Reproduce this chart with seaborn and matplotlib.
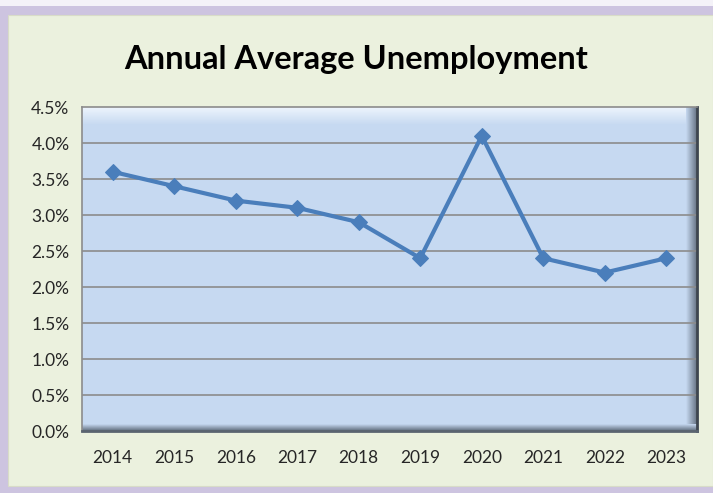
import numpy as np
import pandas as pd
import matplotlib
matplotlib.use("Agg")
import matplotlib.pyplot as plt
import seaborn as sns
from matplotlib.patches import Rectangle
from matplotlib.colors import LinearSegmentedColormap
from matplotlib.ticker import FixedLocator, FuncFormatter

# data
years = ["2014", "2015", "2016", "2017", "2018", "2019", "2020", "2021", "2022", "2023"]
rate = [3.6, 3.4, 3.2, 3.1, 2.9, 2.4, 4.1, 2.4, 2.2, 2.4]
y_ticks = [0.0, 0.5, 1.0, 1.5, 2.0, 2.5, 3.0, 3.5, 4.0, 4.5]

df = pd.DataFrame({"Year": years, "Rate": rate})
df["pos"] = np.arange(len(years))

sns.set_style("white")
plt.rcParams["font.family"] = ["Lato", "DejaVu Sans"]

fig = plt.figure(figsize=(7.13, 4.93), dpi=100)
fig.patch.set_facecolor("#f4f2f8")

# outer frame (lavender) and chart area (pale green)
fig.patches.append(Rectangle((0, 0), 1, 1 - 6 / 493, transform=fig.transFigure,
                             facecolor="#cdc4e0", edgecolor="none", zorder=-2))
fig.patches.append(Rectangle((8 / 713, 7 / 493), 1 - 8 / 713, 1 - 22 / 493,
                             transform=fig.transFigure, facecolor="#ebf1de",
                             edgecolor="#d8dcc8", linewidth=0.8, zorder=-1))

ax = fig.add_axes([82 / 713, 62 / 493, 615 / 713, 324 / 493])
ax.set_zorder(2)
ax.set_facecolor("#c6d9f1")

# soft bevel: highlight fading down from the top, shadow on right and bottom
grad = np.linspace(0, 1, 64)
top_cmap = LinearSegmentedColormap.from_list("top", ["#c6d9f1", "#eef5fd"])
ax.imshow(grad[:, None], cmap=top_cmap, extent=(0, 1, 0.945, 1), origin="lower",
          aspect="auto", transform=ax.transAxes, zorder=0.5)
side_cmap = LinearSegmentedColormap.from_list("side", ["#c6d9f1", "#5d6a7a"])
ax.imshow(grad[None, :], cmap=side_cmap, extent=(0.982, 1, 0, 1),
          aspect="auto", transform=ax.transAxes, zorder=0.5)
ax.imshow(grad[::-1, None], cmap=side_cmap, extent=(0, 1, 0, 0.02), origin="lower",
          aspect="auto", transform=ax.transAxes, zorder=0.5)

for yv in y_ticks[1:-1]:
    ax.axhline(yv, color="#8c8c8c", linewidth=1.2, zorder=1)

sns.lineplot(data=df, x="pos", y="Rate", ax=ax, color="#4a7ebb", linewidth=3,
             marker="D", markersize=8, markeredgecolor="#4a7ebb", zorder=3)

ax.set_xlim(-0.5, len(years) - 0.5)
ax.set_ylim(0, 4.5)
ax.set_yticks(y_ticks)
ax.yaxis.set_major_formatter(FuncFormatter(lambda v, p: f"{v:.1f}%"))

# tick marks between categories, labels centered on categories
ax.xaxis.set_major_locator(FixedLocator(np.arange(-0.5, len(years), 1.0)))
ax.xaxis.set_major_formatter(FuncFormatter(lambda v, p: ""))
ax.xaxis.set_minor_locator(FixedLocator(df["pos"].values))
ax.set_xticklabels(years, minor=True)
ax.tick_params(axis="x", which="major", length=6, width=1, color="#808080", direction="out")
ax.tick_params(axis="x", which="minor", length=0, pad=14, labelsize=12.5)
ax.tick_params(axis="y", length=6, width=1, color="#808080", direction="out",
               labelsize=12.5, pad=3)

ax.set_xlabel("")
ax.set_ylabel("")

for side in ["left", "top"]:
    ax.spines[side].set_color("#8c8c8c")
    ax.spines[side].set_linewidth(1.2)
ax.spines["right"].set_color("#3e4650")
ax.spines["right"].set_linewidth(2)
ax.spines["bottom"].set_color("#5a6470")
ax.spines["bottom"].set_linewidth(2)

fig.text(0.5, 1 - 60 / 493, "Annual Average Unemployment", ha="center", va="center",
         fontsize=23.5, fontweight="bold", color="black")

fig.savefig("out.png", dpi=100, facecolor=fig.get_facecolor())
